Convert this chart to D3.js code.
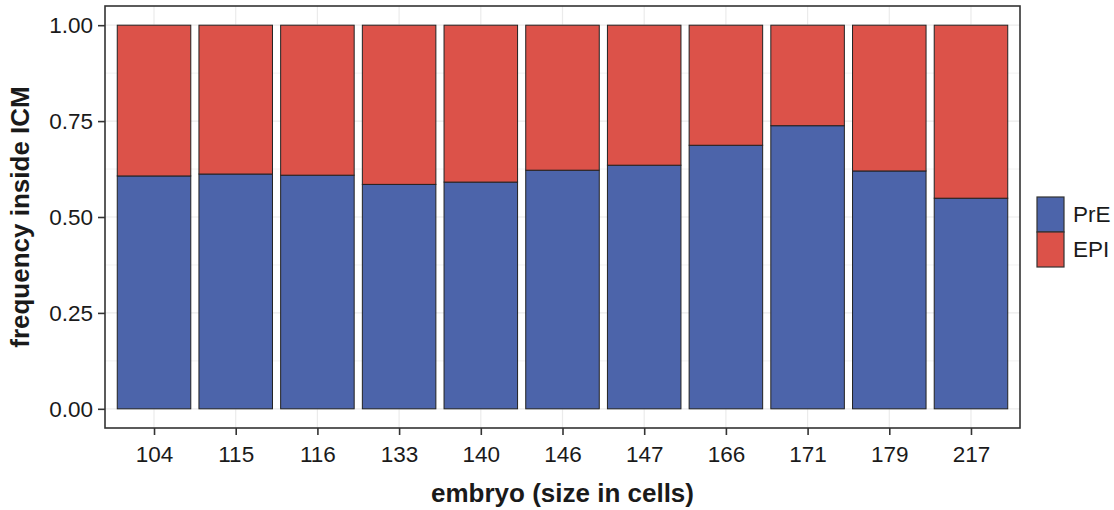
<!doctype html>
<html lang="en">
<head>
    <meta charset="UTF-8">
    <title>Frequency inside ICM</title>
    <style>
        body { margin: 0; background: #fff; }
        text { font-family: "Liberation Sans", Arial, sans-serif; fill: #1a1a1a; }
    </style>
</head>
<body>
<div class="svg"></div>
<script src="https://d3js.org/d3.v7.min.js"></script>
<script>
  (function () {
    const embryos = ['104', '115', '116', '133', '140', '146', '147', '166', '171', '179', '217']
    const pre = [0.607, 0.612, 0.609, 0.585, 0.591, 0.622, 0.635, 0.687, 0.738, 0.620, 0.549]
    const epi = pre.map(v => 1 - v)
    const yTicks = [0, 0.25, 0.5, 0.75, 1]
    const yMinor = [0.125, 0.375, 0.625, 0.875]
    const groups = ['PrE', 'EPI']

    const color = d3.scaleOrdinal().domain(groups).range(['#4c64aa', '#dc5249'])

    const width = 1114
    const height = 510
    const panel = {left: 105, top: 6, right: 1020, bottom: 428}

    const svg = d3.select('.svg')
      .append('svg')
      .attr('width', width)
      .attr('height', height)

    // ggplot style expansion: 0.6 units on a discrete axis, 5% on continuous
    const step = (panel.right - panel.left) / (embryos.length - 1 + 1.2)
    const xScale = d3.scalePoint()
      .domain(embryos)
      .range([panel.left + 0.6 * step, panel.right - 0.6 * step])
    const barW = step * 0.9

    const yScale = d3.scaleLinear()
      .domain([-0.05, 1.05])
      .range([panel.bottom, panel.top])

    // grid
    const grid = svg.append('g')
    grid.selectAll('line.minor')
      .data(yMinor)
      .enter()
      .append('line')
      .attr('x1', panel.left).attr('x2', panel.right)
      .attr('y1', d => yScale(d)).attr('y2', d => yScale(d))
      .attr('stroke', '#f2f2f2').attr('stroke-width', 1)
    grid.selectAll('line.major')
      .data(yTicks)
      .enter()
      .append('line')
      .attr('x1', panel.left).attr('x2', panel.right)
      .attr('y1', d => yScale(d)).attr('y2', d => yScale(d))
      .attr('stroke', '#ebebeb').attr('stroke-width', 1.2)
    grid.selectAll('line.vert')
      .data(embryos)
      .enter()
      .append('line')
      .attr('y1', panel.top).attr('y2', panel.bottom)
      .attr('x1', d => xScale(d)).attr('x2', d => xScale(d))
      .attr('stroke', '#ebebeb').attr('stroke-width', 1.2)

    const stacked = d3.stack().keys(groups)(embryos.map((e, i) => ({embryo: e, PrE: pre[i], EPI: epi[i]})))

    svg.append('g')
      .selectAll('g')
      .data(stacked)
      .enter()
      .append('g')
      .attr('fill', d => color(d.key))
      .selectAll('rect')
      .data(d => d)
      .enter()
      .append('rect')
      .attr('x', d => xScale(d.data.embryo) - barW / 2)
      .attr('width', barW)
      .attr('y', d => yScale(d[1]))
      .attr('height', d => yScale(d[0]) - yScale(d[1]))
      .attr('stroke', '#222')
      .attr('stroke-width', 1)

    // panel border
    svg.append('rect')
      .attr('x', panel.left).attr('y', panel.top)
      .attr('width', panel.right - panel.left)
      .attr('height', panel.bottom - panel.top)
      .attr('fill', 'none')
      .attr('stroke', '#333')
      .attr('stroke-width', 1.6)

    const yAxis = d3.axisLeft(yScale)
      .tickValues(yTicks)
      .tickFormat(d3.format('.2f'))
      .tickSize(7)
      .tickPadding(5)
    const gy = svg.append('g')
      .attr('transform', `translate(${panel.left}, 0)`)
      .call(yAxis)
    const xAxis = d3.axisBottom(xScale)
      .tickSize(7)
      .tickPadding(11)
    const gx = svg.append('g')
      .attr('transform', `translate(0, ${panel.bottom})`)
      .call(xAxis)

    for (const g of [gx, gy]) {
      g.select('.domain').remove()
      g.selectAll('.tick line').attr('stroke', '#333').attr('stroke-width', 1.6)
      g.selectAll('.tick text')
        .style('font-family', '"Liberation Sans", Arial, sans-serif')
        .style('font-size', '22.5px')
        .attr('fill', '#1a1a1a')
    }

    svg.append('text')
      .text('embryo (size in cells)')
      .attr('x', (panel.left + panel.right) / 2)
      .attr('y', 502)
      .attr('text-anchor', 'middle')
      .style('font-size', '26px')
      .style('font-weight', 'bold')

    svg.append('text')
      .text('frequency inside ICM')
      .attr('transform', `translate(29, ${(panel.top + panel.bottom) / 2}) rotate(-90)`)
      .attr('text-anchor', 'middle')
      .style('font-size', '26px')
      .style('font-weight', 'bold')

    // legend
    const legend = svg.append('g')
      .attr('transform', 'translate(1037, 197)')
    const key = legend.selectAll('g')
      .data(groups)
      .enter()
      .append('g')
      .attr('transform', (d, i) => `translate(0, ${i * 35})`)
    key.append('rect')
      .attr('width', 27)
      .attr('height', 35)
      .attr('fill', d => color(d))
      .attr('stroke', '#333')
      .attr('stroke-width', 1.2)
    key.append('text')
      .text(d => d)
      .attr('x', 36)
      .attr('y', 25)
      .style('font-size', '22.5px')
  })()
</script>
</body>
</html>
